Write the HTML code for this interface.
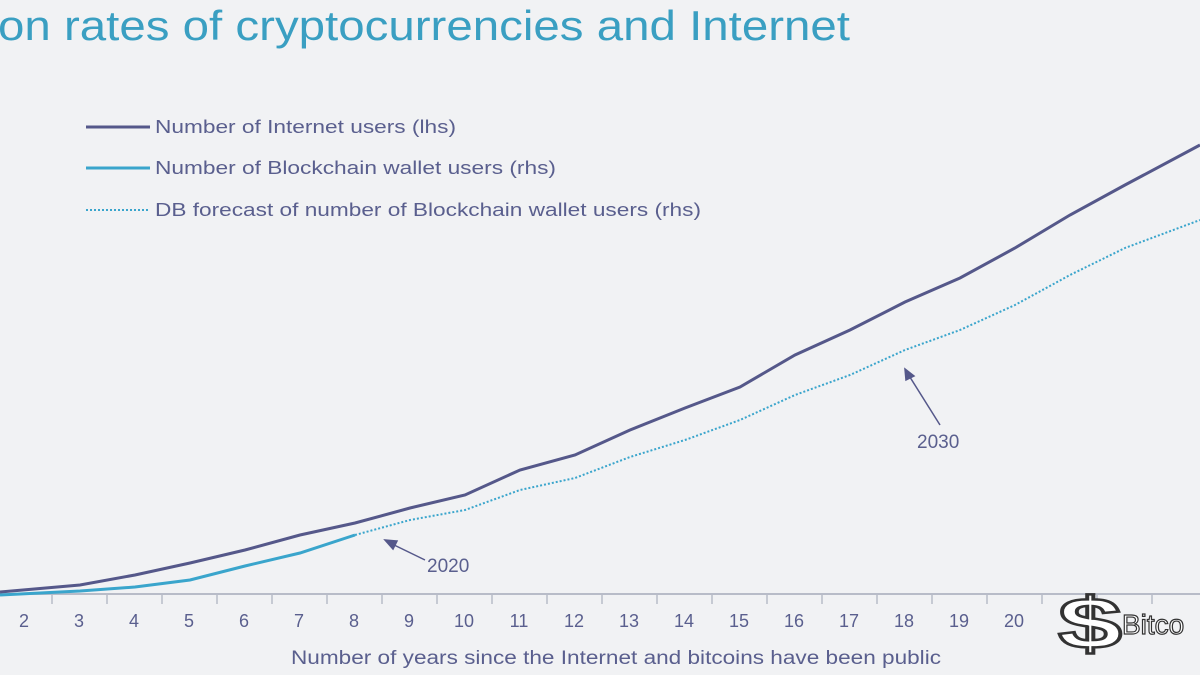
<!DOCTYPE html>
<html><head><style>body{margin:0;background:#f1f2f4}</style></head><body>
<svg width="1200" height="675" xmlns="http://www.w3.org/2000/svg" style="display:block;font-family:'Liberation Sans',sans-serif">
<rect width="1200" height="675" fill="#f1f2f4"/>
<text x="-2" y="40" font-size="42" fill="#3a9fc2" textLength="852" lengthAdjust="spacingAndGlyphs">on rates of cryptocurrencies and Internet</text>
<g font-size="18" fill="#5a5f8e">
<line x1="86" y1="127" x2="150" y2="127" stroke="#55588a" stroke-width="3"/>
<text x="155" y="133" textLength="301" lengthAdjust="spacingAndGlyphs">Number of Internet users (lhs)</text>
<line x1="86" y1="168" x2="150" y2="168" stroke="#3aa5cc" stroke-width="3"/>
<text x="155" y="174" textLength="401" lengthAdjust="spacingAndGlyphs">Number of Blockchain wallet users (rhs)</text>
<line x1="86" y1="210" x2="150" y2="210" stroke="#3aa5cc" stroke-width="2" stroke-dasharray="2,2"/>
<text x="155" y="216" textLength="546" lengthAdjust="spacingAndGlyphs">DB forecast of number of Blockchain wallet users (rhs)</text>
</g>
<line x1="0" y1="594" x2="1200" y2="594" stroke="#b8bcc8" stroke-width="2"/>
<g stroke="#b8bcc8" stroke-width="1.5">
<line x1="52" y1="594" x2="52" y2="604"/><line x1="107" y1="594" x2="107" y2="604"/><line x1="162" y1="594" x2="162" y2="604"/><line x1="217" y1="594" x2="217" y2="604"/><line x1="272" y1="594" x2="272" y2="604"/><line x1="327" y1="594" x2="327" y2="604"/><line x1="382" y1="594" x2="382" y2="604"/><line x1="437" y1="594" x2="437" y2="604"/><line x1="492" y1="594" x2="492" y2="604"/><line x1="547" y1="594" x2="547" y2="604"/><line x1="602" y1="594" x2="602" y2="604"/><line x1="657" y1="594" x2="657" y2="604"/><line x1="712" y1="594" x2="712" y2="604"/><line x1="767" y1="594" x2="767" y2="604"/><line x1="822" y1="594" x2="822" y2="604"/><line x1="877" y1="594" x2="877" y2="604"/><line x1="932" y1="594" x2="932" y2="604"/><line x1="987" y1="594" x2="987" y2="604"/><line x1="1042" y1="594" x2="1042" y2="604"/><line x1="1097" y1="594" x2="1097" y2="604"/><line x1="1152" y1="594" x2="1152" y2="604"/>
</g>
<g font-size="18" fill="#5a5f8e" text-anchor="middle">
<text x="24" y="627">2</text><text x="79" y="627">3</text><text x="134" y="627">4</text><text x="189" y="627">5</text><text x="244" y="627">6</text><text x="299" y="627">7</text><text x="354" y="627">8</text><text x="409" y="627">9</text><text x="464" y="627">10</text><text x="519" y="627">11</text><text x="574" y="627">12</text><text x="629" y="627">13</text><text x="684" y="627">14</text><text x="739" y="627">15</text><text x="794" y="627">16</text><text x="849" y="627">17</text><text x="904" y="627">18</text><text x="959" y="627">19</text><text x="1014" y="627">20</text>
</g>
<text x="291" y="664" font-size="19" fill="#5a5f8e" textLength="650" lengthAdjust="spacingAndGlyphs">Number of years since the Internet and bitcoins have been public</text>
<polyline fill="none" stroke="#55588a" stroke-width="3" points="0,592 80,585 135,575 190,563 245,550 300,535 355,523 410,508 465,495 520,470 575,455 630,430 685,408 740,387 795,355 850,330 905,302 960,278 1015,248 1070,215 1125,185 1200,145"/>
<polyline fill="none" stroke="#3aa5cc" stroke-width="3" points="0,595 80,591 135,587 190,580 245,566 300,553 355,535"/>
<polyline fill="none" stroke="#3aa5cc" stroke-width="2" stroke-dasharray="2,2" points="355,535 410,520 465,510 520,490 575,478 630,457 685,440 740,420 795,395 850,375 905,350 960,330 1015,305 1070,275 1125,248 1200,220"/>
<g stroke="#55588a" stroke-width="1.5" fill="#55588a">
<line x1="425" y1="560" x2="390" y2="543"/><polygon points="385,540 397,541 393,549"/>
<line x1="940" y1="425" x2="908" y2="374"/><polygon points="905,369 914,376 906,380"/>
</g>
<g font-size="19" fill="#5a5f8e"><text x="427" y="572">2020</text><text x="917" y="448">2030</text></g>
<text x="1058" y="648" font-size="72" font-weight="bold" fill="#fff" stroke="#333" stroke-width="2.5" textLength="64" lengthAdjust="spacingAndGlyphs">$</text>
<text x="1122" y="634" font-size="28" fill="#fff" stroke="#333" stroke-width="1.2">Bitco</text>
</svg>
</body></html>
